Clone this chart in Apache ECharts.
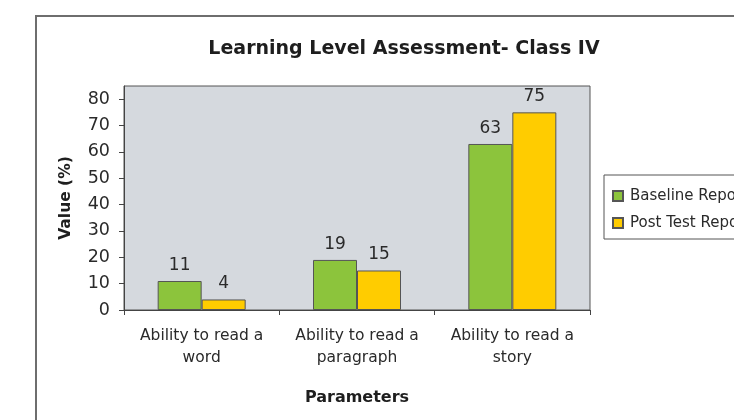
<!DOCTYPE html>
<html>
<head>
<meta charset="utf-8">
<script src="https://cdn.jsdelivr.net/npm/echarts@6/dist/echarts.min.js"></script>
<style>
  html, body { margin: 0; padding: 0; background: #fff; overflow: hidden; }
  .frame {
    position: absolute; left: 35px; top: 15px;
    width: 800px; height: 500px;
    border: 2px solid #6e6e6e;
  }
  #chart { position: absolute; left: 0; top: 0; width: 734px; height: 420px; }
</style>
</head>
<body>
<div class="frame"></div>
<div id="chart"></div>
<script>
const categories = ['Ability to read a\nword', 'Ability to read a\nparagraph', 'Ability to read a\nstory']
const baseline = [11, 19, 63]
const postTest = [4, 15, 75]
const seriesNames = ['Baseline Report', 'Post Test Report']
const yTicks = [0, 10, 20, 30, 40, 50, 60, 70, 80]

const chart = echarts.init(document.getElementById('chart'))

const font = 'DejaVu Sans, Verdana, sans-serif'

const barLabel = {
  show: true,
  position: 'top',
  distance: 7,
  fontFamily: font,
  fontSize: 17,
  color: '#2a2a2a'
}

const option = {
  animation: false,
  title: {
    text: 'Learning Level Assessment- Class IV',
    left: 399,
    textAlign: 'center',
    top: 35,
    textStyle: {
      fontFamily: font,
      fontWeight: 'bold',
      fontSize: 19,
      color: '#1e1e1e'
    }
  },
  legend: {
    orient: 'vertical',
    left: 604,
    top: 175,
    padding: [12, 60, 7, 8],
    itemGap: 9,
    itemWidth: 10,
    itemHeight: 10,
    icon: 'rect',
    borderColor: '#555',
    borderWidth: 1,
    textStyle: { fontFamily: font, fontSize: 15, lineHeight: 18, color: '#2a2a2a', padding: [0, 0, 0, 2] },
    data: seriesNames
  },
  grid: {
    left: 124,
    right: 144,
    top: 86,
    bottom: 110,
    show: true,
    backgroundColor: '#d5d9de',
    borderColor: '#555',
    borderWidth: 1
  },
  xAxis: {
    type: 'category',
    data: categories,
    name: 'Parameters',
    nameLocation: 'middle',
    nameGap: 80,
    nameTextStyle: { fontFamily: font, fontWeight: 'bold', fontSize: 16, color: '#1e1e1e' },
    axisLine: { lineStyle: { color: '#444', width: 1 } },
    axisTick: { show: true, length: 5, lineStyle: { color: '#444' } },
    axisLabel: {
      fontFamily: font,
      fontSize: 15.5,
      color: '#2a2a2a',
      lineHeight: 22,
      margin: 15,
      interval: 0
    }
  },
  yAxis: {
    type: 'value',
    min: 0,
    max: 85,
    interval: 10,
    name: 'Value (%)',
    nameLocation: 'middle',
    nameGap: 50,
    nameRotate: 90,
    nameTextStyle: { fontFamily: font, fontWeight: 'bold', fontSize: 15.5, color: '#1e1e1e' },
    splitLine: { show: false },
    axisLine: { show: true, lineStyle: { color: '#444', width: 1 } },
    axisTick: { show: true, length: 5, customValues: yTicks, lineStyle: { color: '#444' } },
    axisLabel: {
      customValues: yTicks,
      fontFamily: font,
      fontSize: 17.5,
      color: '#2a2a2a',
      margin: 14
    }
  },
  series: [
    {
      name: seriesNames[0],
      type: 'bar',
      data: baseline,
      barWidth: 44,
      barGap: '0%',
      itemStyle: { color: '#8cc43c', borderColor: '#555', borderWidth: 1 },
      label: barLabel
    },
    {
      name: seriesNames[1],
      type: 'bar',
      data: postTest,
      barWidth: 44,
      barGap: '0%',
      itemStyle: { color: '#ffcc00', borderColor: '#555', borderWidth: 1 },
      label: barLabel
    }
  ]
}

chart.setOption(option)
</script>
</body>
</html>
